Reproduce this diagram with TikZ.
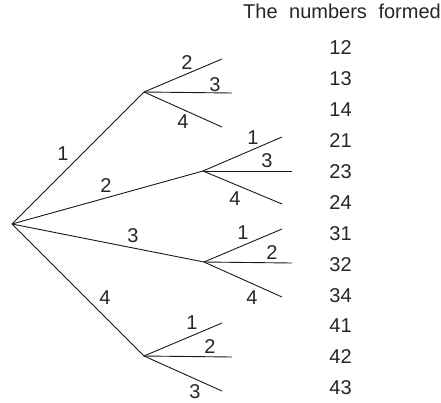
\documentclass[tikz,border=0pt]{standalone}
\usepackage{fontspec}
\setmainfont{Liberation Sans}
\begin{document}
\begin{tikzpicture}[x=1pt,y=-1pt,
  lbl/.style={font=\fontsize{20}{24}\selectfont, inner sep=0pt, text=black!85},
  edge/.style={draw=black!90, line width=0.9pt},
  pt/.style={inner sep=0pt, minimum size=0pt}]
\useasboundingbox (0,0) rectangle (441,402);
% tree points
\node[pt] (r) at (12,224) {};
\node[pt] (a) at (144,92) {};
\node[pt] (b) at (203,171) {};
\node[pt] (c) at (204,262) {};
\node[pt] (d) at (144,356) {};
\coordinate (a1) at (222,59);
\coordinate (a2) at (232,93);
\coordinate (a3) at (222,127);
\coordinate (b1) at (282,137);
\coordinate (b2) at (292,171);
\coordinate (b3) at (282,204);
\coordinate (c1) at (282,229);
\coordinate (c2) at (292,263);
\coordinate (c3) at (282,297);
\coordinate (d1) at (222,323);
\coordinate (d2) at (232,357);
\coordinate (d3) at (222,391);
\foreach \p in {a,b,c,d} {\draw[edge] (r.center) -- (\p.center);}
\foreach \p in {a,b,c,d} {\foreach \i in {1,2,3} {\draw[edge] (\p.center) -- (\p\i);}}
% first-level labels
\node[lbl] (la) at (63,154) {1};
\node[lbl] (lb) at (106,186) {2};
\node[lbl] (lc) at (133,236) {3};
\node[lbl] (ld) at (105,298) {4};
% second-level labels
\node[lbl] (la1) at (187,63) {2};
\node[lbl] (la2) at (215,85) {3};
\node[lbl] (la3) at (183,122) {4};
\node[lbl] (lb1) at (253,138) {1};
\node[lbl] (lb2) at (267,161) {3};
\node[lbl] (lb3) at (235,199) {4};
\node[lbl] (lc1) at (243,233) {1};
\node[lbl] (lc2) at (272,253) {2};
\node[lbl] (lc3) at (252,298) {4};
\node[lbl] (ld1) at (192,323) {1};
\node[lbl] (ld2) at (210,347) {2};
\node[lbl] (ld3) at (195,392) {3};
% right column
\node[lbl, anchor=east] (head) at (441,11) {The\hspace{0.3em} numbers\hspace{0.3em} formed};
\foreach \n [count=\k from 0] in {12,13,14,21,23,24,31,32,34,41,42,43}
  {\node[lbl] (n\n) at (340.5,48+30.9*\k) {\n};}
\end{tikzpicture}
\end{document}
